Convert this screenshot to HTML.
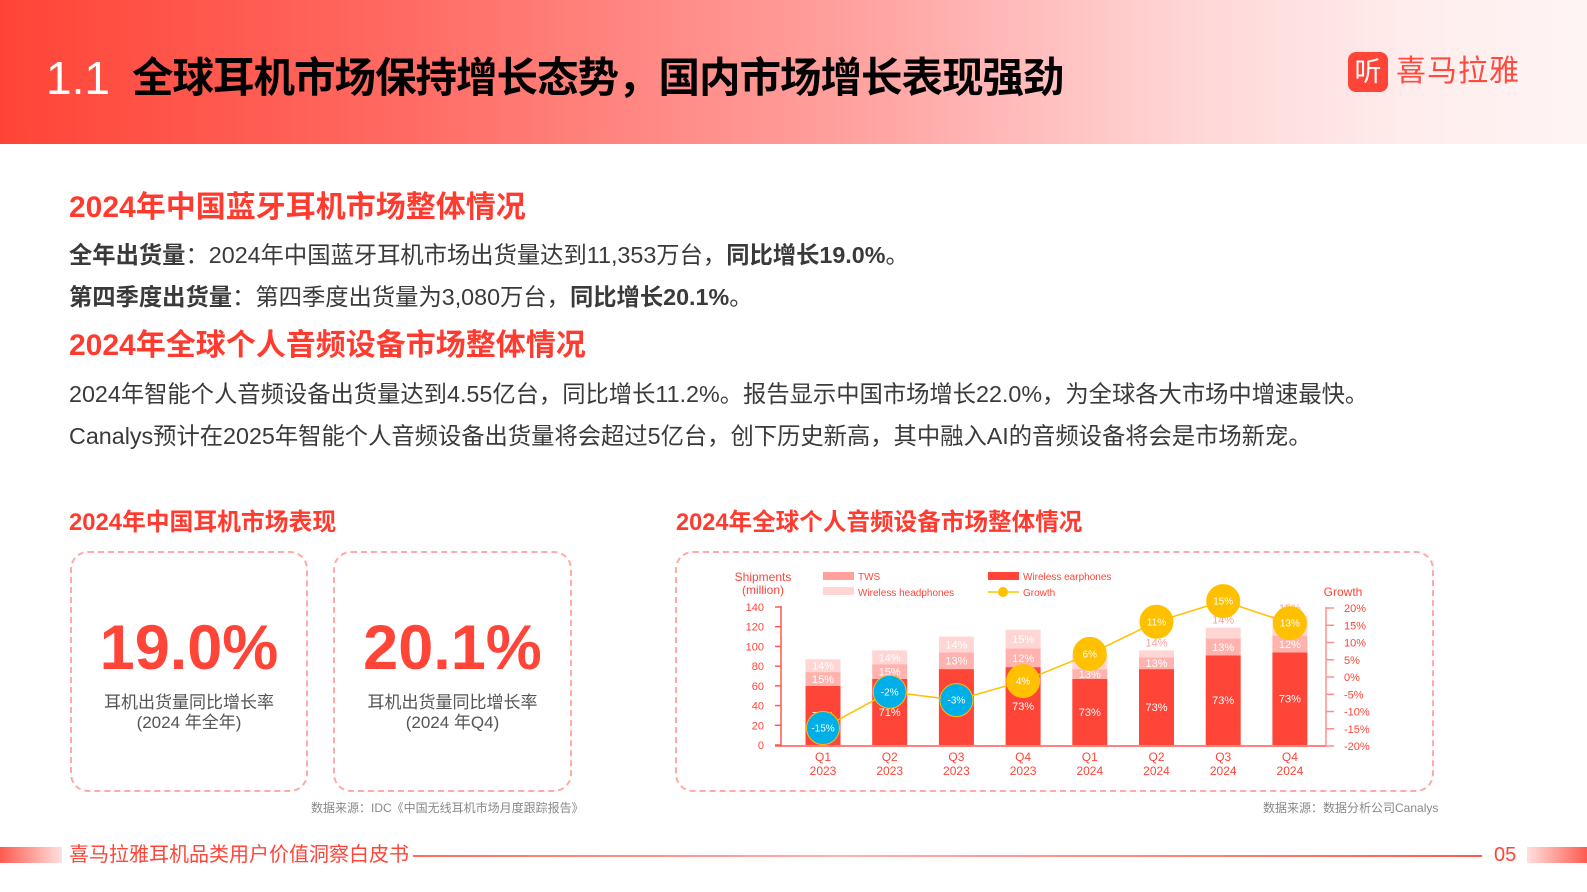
<!DOCTYPE html>
<html><head><meta charset="utf-8">
<style>
*{margin:0;padding:0;box-sizing:border-box}
body{width:1587px;height:892px;background:#fff;position:relative;overflow:hidden;font-family:"Liberation Sans","Noto Sans CJK SC",sans-serif}
.abs{position:absolute;white-space:nowrap}
#header{position:absolute;left:0;top:0;width:1587px;height:144px;background:linear-gradient(90deg,#ff4437 0%,#ff6a62 25%,#ffa4a2 55%,#ffd6d6 75%,#ffeeee 90%,#fff4f4 100%)}
.h1{color:#ff3b30;font-weight:bold;font-size:30px}
.txt{color:#3a3a3a;font-size:23.3px}
.box{position:absolute;border:2px dashed #ffaaa6;border-radius:18px}
.big{position:absolute;width:100%;text-align:center;color:#ff4438;font-weight:bold;font-size:63px}
.lab{position:absolute;width:100%;text-align:center;color:#555;font-size:17px;line-height:20px}
.src{color:#888;font-size:12px}
</style></head><body>
<div id="header">
  <div class="abs" style="left:46px;top:52px;font-size:46px;color:#fff;line-height:52px">1.1</div>
  <div class="abs" style="left:132px;top:54px;font-size:41.5px;font-weight:bold;color:#000;line-height:48px;letter-spacing:-1px">全球耳机市场保持增长态势，国内市场增长表现强劲</div>
  <div class="abs" style="left:1348px;top:52px;width:40px;height:40px;border-radius:8px;background:#ff4438;color:#fff;font-size:27px;line-height:40px;text-align:center">听</div>
  <div class="abs" style="left:1396px;top:52px;font-size:30px;color:#ff4a40;line-height:40px;letter-spacing:1px">喜马拉雅</div>
</div>

<div class="abs h1" style="left:69px;top:190px;line-height:36px">2024年中国蓝牙耳机市场整体情况</div>
<div class="abs txt" style="left:69px;top:241px;line-height:28px"><b>全年出货量</b>：2024年中国蓝牙耳机市场出货量达到11,353万台，<b>同比增长19.0%</b>。</div>
<div class="abs txt" style="left:69px;top:283px;line-height:28px"><b>第四季度出货量</b>：第四季度出货量为3,080万台，<b>同比增长20.1%</b>。</div>
<div class="abs h1" style="left:69px;top:328px;line-height:36px">2024年全球个人音频设备市场整体情况</div>
<div class="abs txt" style="left:69px;top:380px;line-height:28px">2024年智能个人音频设备出货量达到4.55亿台，同比增长11.2%。报告显示中国市场增长22.0%，为全球各大市场中增速最快。</div>
<div class="abs txt" style="left:69px;top:422px;line-height:28px">Canalys预计在2025年智能个人音频设备出货量将会超过5亿台，创下历史新高，其中融入AI的音频设备将会是市场新宠。</div>

<div class="abs" style="left:69px;top:508px;font-size:23.8px;font-weight:bold;color:#ff3b30;line-height:30px">2024年中国耳机市场表现</div>
<div class="abs" style="left:676px;top:508px;font-size:23.6px;font-weight:bold;color:#ff3b30;line-height:30px">2024年全球个人音频设备市场整体情况</div>

<div class="box" style="left:70px;top:551px;width:238px;height:241px">
  <div class="big" style="top:60px;line-height:70px">19.0%</div>
  <div class="lab" style="top:140px">耳机出货量同比增长率<br>(2024 年全年)</div>
</div>
<div class="box" style="left:333px;top:551px;width:239px;height:241px">
  <div class="big" style="top:60px;line-height:70px">20.1%</div>
  <div class="lab" style="top:140px">耳机出货量同比增长率<br>(2024 年Q4)</div>
</div>
<div class="abs src" style="left:311px;top:799px">数据来源：IDC《中国无线耳机市场月度跟踪报告》</div>

<div class="box" style="left:675px;top:551px;width:759px;height:241px"></div>
<svg class="abs" id="chart" style="left:0;top:0" width="1587" height="892"></svg>
<div class="abs src" style="left:1263px;top:799px">数据来源：数据分析公司Canalys</div>

<div class="abs" style="left:0;top:847px;width:62px;height:16px;background:linear-gradient(90deg,#ff5a50,#ffe0de)"></div>
<div class="abs" style="left:69px;top:842px;font-size:20px;color:#ff4438;line-height:26px">喜马拉雅耳机品类用户价值洞察白皮书</div>
<div class="abs" style="left:413px;top:855px;width:1069px;height:2px;background:linear-gradient(90deg,#ff6a62,#ffb0ad 40%,#ff5a50)"></div>
<div class="abs" style="left:1494px;top:842px;font-size:20px;color:#ff4438;line-height:26px">05</div>
<div class="abs" style="left:1527px;top:847px;width:60px;height:16px;background:linear-gradient(90deg,#ffe0de,#ff5a50)"></div>

<script>
const categories=["Q1|2023","Q2|2023","Q3|2023","Q4|2023","Q1|2024","Q2|2024","Q3|2024","Q4|2024"];
const earphones=[60,67,77,79,67,77,91,94];
const tws=[14,15,17,19,10,12,17,17];
const headphones=[13,14,16,19,15,7,11,20];
const earLabels=["71%","71%","73%","73%","73%","73%","73%","73%"];
const twsLabels=["15%","15%","13%","12%","13%","13%","13%","12%"];
const hpLabels=["14%","14%","14%","15%","15%","14%","14%","15%"];
const hpLabelAbove=[false,false,false,false,true,true,true,true];
const growth=[-14.8,-4.3,-6.7,-1.2,6.7,16,22,15.6];
const growthLabels=["-15%","-2%","-3%","4%","6%","11%","15%","13%"];
const leftTicks=[0,20,40,60,80,100,120,140];
const rightTicks=[-20,-15,-10,-5,0,5,10,15,20];

const svg=document.getElementById('chart');
const NS='http://www.w3.org/2000/svg';
function mk(tag,attrs,parent){const e=document.createElementNS(NS,tag);for(const k in attrs)e.setAttribute(k,attrs[k]);(parent||svg).appendChild(e);return e;}
const X0=823,DX=66.7,BW=35;
function xPos(i){return X0+i*DX;}
function yL(v){return 745-v*(138/140);}
function yR(v){return 746-(v+20)*(138/40);}
const F='"Liberation Sans","Noto Sans CJK SC",sans-serif';

let ax=mk('line',{x1:781,y1:606,x2:781,y2:746,stroke:'#ff5a50','stroke-width':1.5});


let bx=mk('line',{x1:775,y1:746,x2:1326,y2:746,stroke:'#ff5a50','stroke-width':1.5});


let rx=mk('line',{x1:1326,y1:607,x2:1326,y2:746,stroke:'#ff8f8a','stroke-width':1.5});


leftTicks.forEach(v=>{
  const y=yL(v);
  mk('line',{x1:775,y1:y,x2:781,y2:y,stroke:'#ff5a50','stroke-width':1.5});
  const t=mk('text',{x:764,y:y+4,'text-anchor':'end','font-size':11,fill:'#ff4438','font-family':F});t.textContent=v;
  
  
});
rightTicks.forEach(v=>{
  const y=yR(v);
  mk('line',{x1:1326,y1:y,x2:1334,y2:y,stroke:'#ff8f8a','stroke-width':1.5});
  const t=mk('text',{x:1344,y:y+4,'font-size':11,fill:'#ff4438','font-family':F});t.textContent=v+'%';
  
  
});
categories.forEach((c,i)=>{
  const x=xPos(i)-BW/2;
  const e=earphones[i],t=tws[i],h=headphones[i];
  const r1=mk('rect',{x:x,y:yL(e),width:BW,height:yL(0)-yL(e),fill:'#ff4438'});
  
  
  const r2=mk('rect',{x:x,y:yL(e+t),width:BW,height:yL(e)-yL(e+t),fill:'#ffb2ae'});
  
  
  const r3=mk('rect',{x:x,y:yL(e+t+h),width:BW,height:yL(e+t)-yL(e+t+h),fill:'#ffd6d4'});
  
  
  const l1=mk('text',{x:xPos(i),y:(yL(e)+yL(0))/2+4,'text-anchor':'middle','font-size':11,fill:'#fff','font-family':F});l1.textContent=earLabels[i];
  const l2=mk('text',{x:xPos(i),y:(yL(e)+yL(e+t))/2+4,'text-anchor':'middle','font-size':11,fill:'#fff','font-family':F});l2.textContent=twsLabels[i];
  const ly=hpLabelAbove[i]?yL(e+t+h)-4:(yL(e+t)+yL(e+t+h))/2+4;
  const l3=mk('text',{x:xPos(i),y:ly,'text-anchor':'middle','font-size':11,fill:hpLabelAbove[i]?'#ffa09b':'#fff','font-family':F});l3.textContent=hpLabels[i];
  const p=c.split('|');
  const q=mk('text',{x:xPos(i),y:761,'text-anchor':'middle','font-size':12,fill:'#ff4438','font-family':F});q.textContent=p[0];
  
  
  const yy=mk('text',{x:xPos(i),y:775,'text-anchor':'middle','font-size':12,fill:'#ff4438','font-family':F});yy.textContent=p[1];
  
  
});
const pts=growth.map((g,i)=>xPos(i)+','+yR(g)).join(' ');
const pl=mk('polyline',{points:pts,fill:'none',stroke:'#ffc000','stroke-width':1.5});


growth.forEach((g,i)=>{
  const neg=growthLabels[i].startsWith('-');
  const c=mk('circle',{cx:xPos(i),cy:yR(g),r:16.5,fill:neg?'#00aee8':'#ffc000',stroke:'#ffc000','stroke-width':1});
  
  
  const t=mk('text',{x:xPos(i),y:yR(g)+3.5,'text-anchor':'middle','font-size':10,fill:'#fff','font-family':F});t.textContent=growthLabels[i];
});
function txt(x,y,s,name,size,col,anchor){const t=mk('text',{x:x,y:y,'font-size':size||11,fill:col||'#ff4438','font-family':F,'text-anchor':anchor||'start'});t.textContent=s;return t;}
txt(763,581,'Shipments','y-axis-title',12,'#ff4438','middle');
txt(763,594,'(million)','y-axis-title-unit',12,'#ff4438','middle');
txt(1343,596,'Growth','right-axis-title',12,'#ff4438','middle');
const s1=mk('rect',{x:823,y:572,width:31,height:8,fill:'#ffa09b'});


txt(858,580,'TWS','legend-tws',10);
const s2=mk('rect',{x:823,y:587,width:31,height:8,fill:'#ffd6d4'});


txt(858,596,'Wireless headphones','legend-headphones',10);
const s3=mk('rect',{x:988,y:572,width:31,height:8,fill:'#ff4438'});


txt(1023,580,'Wireless earphones','legend-earphones',10);
mk('line',{x1:988,y1:592,x2:1019,y2:592,stroke:'#ffc000','stroke-width':1.5});
const s4=mk('circle',{cx:1003,cy:592,r:5,fill:'#ffc000'});


txt(1023,596,'Growth','legend-growth',10);
</script>
</body></html>
